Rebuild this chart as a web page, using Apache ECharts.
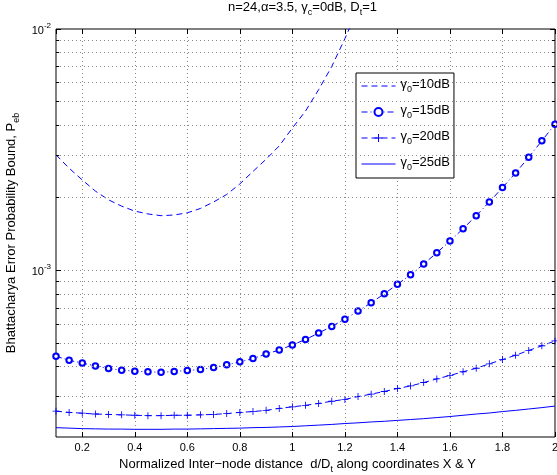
<!DOCTYPE html>
<html>
<head>
<meta charset="utf-8">
<title>Bhattacharya Error Probability Bound</title>
<script src="https://cdn.jsdelivr.net/npm/echarts@6/dist/echarts.min.js"></script>
<style>
  html, body { margin: 0; padding: 0; background: #fff; }
  #chart { width: 557px; height: 475px; }
</style>
</head>
<body>
<div id="chart"></div>
<script>
// normalized inter-node distance d/Dt
const xValues = [0.1, 0.15, 0.2, 0.25, 0.3, 0.35, 0.4, 0.45, 0.5, 0.55, 0.6, 0.65, 0.7, 0.75, 0.8, 0.85, 0.9, 0.95, 1.0,
  1.05, 1.1, 1.15, 1.2, 1.25, 1.3, 1.35, 1.4, 1.45, 1.5, 1.55, 1.6, 1.65, 1.7, 1.75, 1.8, 1.85, 1.9, 1.95, 2.0];

// gamma0 = 10dB (goes off the top after ~1.2)
const pe10dB = [3.01e-3, 2.65e-3, 2.37e-3, 2.13e-3, 1.96e-3, 1.845e-3, 1.76e-3, 1.713e-3, 1.685e-3, 1.696e-3, 1.732e-3,
  1.805e-3, 1.92e-3, 2.063e-3, 2.281e-3, 2.57e-3, 2.887e-3, 3.279e-3, 3.887e-3, 4.568e-3, 5.605e-3, 6.995e-3, 9.124e-3, 1.21e-2];
// gamma0 = 15dB
const pe15dB = [4.41e-4, 4.24e-4, 4.13e-4, 4.02e-4, 3.92e-4, 3.86e-4, 3.82e-4, 3.80e-4, 3.78e-4, 3.81e-4, 3.85e-4, 3.88e-4,
  3.96e-4, 4.06e-4, 4.18e-4, 4.31e-4, 4.50e-4, 4.68e-4, 4.91e-4, 5.17e-4, 5.50e-4, 5.86e-4, 6.28e-4, 6.78e-4, 7.34e-4,
  8.00e-4, 8.75e-4, 9.59e-4, 1.062e-3, 1.183e-3, 1.323e-3, 1.488e-3, 1.685e-3, 1.92e-3, 2.202e-3, 2.533e-3, 2.943e-3,
  3.44e-3, 4.034e-3];
// gamma0 = 20dB
const pe20dB = [2.61e-4, 2.58e-4, 2.56e-4, 2.54e-4, 2.53e-4, 2.52e-4, 2.51e-4, 2.50e-4, 2.50e-4, 2.51e-4, 2.51e-4, 2.52e-4,
  2.53e-4, 2.55e-4, 2.58e-4, 2.60e-4, 2.63e-4, 2.68e-4, 2.72e-4, 2.76e-4, 2.81e-4, 2.87e-4, 2.92e-4, 3.00e-4, 3.07e-4,
  3.15e-4, 3.24e-4, 3.32e-4, 3.43e-4, 3.55e-4, 3.67e-4, 3.80e-4, 3.93e-4, 4.10e-4, 4.27e-4, 4.45e-4, 4.66e-4, 4.87e-4, 5.10e-4];
// gamma0 = 25dB
const pe25dB = [2.23e-4, 2.22e-4, 2.21e-4, 2.205e-4, 2.20e-4, 2.20e-4, 2.195e-4, 2.195e-4, 2.195e-4, 2.20e-4, 2.20e-4,
  2.205e-4, 2.21e-4, 2.215e-4, 2.22e-4, 2.23e-4, 2.235e-4, 2.245e-4, 2.255e-4, 2.27e-4, 2.285e-4, 2.30e-4, 2.32e-4,
  2.335e-4, 2.355e-4, 2.37e-4, 2.39e-4, 2.41e-4, 2.43e-4, 2.455e-4, 2.48e-4, 2.51e-4, 2.54e-4, 2.565e-4, 2.60e-4,
  2.63e-4, 2.665e-4, 2.70e-4, 2.74e-4];

const seriesNames = ['γ0=10dB', 'γ0=15dB', 'γ0=20dB', 'γ0=25dB'];
const legendLabels = ['10dB', '15dB', '20dB', '25dB'];

// log axis grid lines / ticks
const yMajorTicks = [1e-3, 1e-2];
const yMinorTicks = [3e-4, 4e-4, 5e-4, 6e-4, 7e-4, 8e-4, 9e-4, 2e-3, 3e-3, 4e-3, 5e-3, 6e-3, 7e-3, 8e-3, 9e-3];

const X_MIN = 0.1, X_MAX = 2, Y_MIN = 2.04e-4, Y_MAX = 1e-2;
const FONT = 'Liberation Sans';
const BLUE = '#0000ff';

// big text (title, axis names, legend)
const rich = {
  n: { fontFamily: FONT, fontSize: 13, fontWeight: 'normal', color: '#000', verticalAlign: 'bottom', padding: [0, 0, 3, 0] },
  sub: { fontFamily: FONT, fontSize: 9, fontWeight: 'normal', color: '#000', verticalAlign: 'bottom', padding: [0, 0, 0, 0] }
};
// tick labels 10^k
const tickRich = {
  n: { fontFamily: FONT, fontSize: 11, color: '#000', verticalAlign: 'bottom', padding: [0, 0, 0, 0] },
  sup: { fontFamily: FONT, fontSize: 8, color: '#000', verticalAlign: 'bottom', padding: [0, 0, 7, 0] }
};

function zip(ys) {
  return ys.map((y, i) => [xValues[i], y]);
}

// dotted grid lines + short ticks for the log axis, drawn as mark lines
function yGuides() {
  const out = [];
  const grid = { color: '#888', type: [1, 3], width: 1 };
  const tick = { color: '#000', type: 'solid', width: 1 };
  yMinorTicks.concat(yMajorTicks).forEach(v => {
    const len = yMajorTicks.indexOf(v) >= 0 ? 0.019 : 0.012;
    if (v < Y_MAX) out.push([{ coord: [X_MIN, v], lineStyle: grid }, { coord: [X_MAX, v] }]);
    out.push([{ coord: [X_MIN, v], lineStyle: tick }, { coord: [X_MIN + len, v] }]);
    out.push([{ coord: [X_MAX - len, v], lineStyle: tick }, { coord: [X_MAX, v] }]);
  });
  return out;
}

const plusSymbol = 'path://M0,4.4H10V5.6H0ZM4.4,0H5.6V10H4.4Z';

const chart = echarts.init(document.getElementById('chart'));

const xAxisBase = {
  type: 'value',
  min: X_MIN,
  max: X_MAX,
  splitNumber: 10,
  axisLine: { show: false },
  axisTick: { inside: true, length: 5, lineStyle: { color: '#000' } }
};

let option = {
  animation: false,
  backgroundColor: '#fff',
  title: {
    text: '{n|n=24,α=3.5, γ}{sub|c}{n|=0dB, D}{sub|t}{n|=1}',
    left: 228,
    top: 1,
    padding: 0,
    textStyle: { fontWeight: 'normal', rich: rich }
  },
  legend: {
    orient: 'vertical',
    left: 356,
    top: 73,
    data: seriesNames.map((name, i) => ({
      name: name,
      // no marker on the plain line styles
      itemStyle: (i === 0 || i === 3) ? { opacity: 0 } : {}
    })),
    selectedMode: false,
    itemWidth: 34,
    itemHeight: 10,
    itemGap: 10,
    padding: [5, 4, 6, 5],
    lineStyle: { width: 1 },
    backgroundColor: '#fff',
    borderColor: '#000',
    borderWidth: 1,
    borderRadius: 0,
    formatter: name => '{n|γ}{sub|0}{n|=' + legendLabels[seriesNames.indexOf(name)] + '}',
    textStyle: { rich: rich }
  },
  grid: {
    left: 56,
    right: 2,
    top: 29,
    bottom: 38,
    outerBoundsMode: 'none',
    containLabel: false,
    show: true,
    borderColor: '#000',
    borderWidth: 1,
    backgroundColor: 'transparent'
  },
  xAxis: [
    Object.assign({}, xAxisBase, {
      position: 'bottom',
      name: '{n|Normalized Inter−node distance  d/D}{sub|t}{n| along coordinates X & Y}',
      nameLocation: 'middle',
      nameGap: 18,
      nameTextStyle: { rich: rich, padding: [0, 16, 0, 0] },
      axisLabel: { showMinLabel: false, margin: 5, fontFamily: FONT, fontSize: 11, color: '#000' },
      splitLine: { show: true, lineStyle: { color: '#888', type: [1, 3], width: 1 } }
    }),
    Object.assign({}, xAxisBase, {
      position: 'top',
      axisLabel: { show: false },
      splitLine: { show: false }
    })
  ],
  yAxis: {
    type: 'log',
    logBase: 10,
    min: Y_MIN,
    max: Y_MAX,
    name: '{n|Bhattacharya Error Probability Bound, P}{sub|eb}',
    nameLocation: 'middle',
    nameGap: 34,
    nameTextStyle: { rich: rich },
    axisLine: { show: false },
    axisTick: { show: false },
    splitLine: { show: false },
    minorTick: { show: false },
    axisLabel: {
      showMinLabel: false,
      margin: 5,
      formatter: function (v) {
        const e = Math.round(Math.log10(v));
        if (Math.abs(Math.log10(v) - e) > 1e-6) return '';
        return '{n|10}{sup|' + e + '}';
      },
      rich: tickRich
    }
  },
  series: [
    {
      name: seriesNames[0],
      type: 'line',
      data: zip(pe10dB),
      symbol: 'none',
      lineStyle: { color: BLUE, width: 1, type: [6, 4] },
      itemStyle: { color: BLUE }
    },
    {
      name: seriesNames[1],
      type: 'line',
      data: zip(pe15dB),
      symbol: 'emptyCircle',
      symbolSize: 5.5,
      lineStyle: { color: BLUE, width: 1, type: [6, 3, 1, 3] },
      itemStyle: { color: BLUE, borderColor: BLUE, borderWidth: 0.9 }
    },
    {
      name: seriesNames[2],
      type: 'line',
      data: zip(pe20dB),
      symbol: plusSymbol,
      symbolSize: 7,
      lineStyle: { color: BLUE, width: 1, type: [6, 4] },
      itemStyle: { color: BLUE, borderWidth: 0 }
    },
    {
      name: seriesNames[3],
      type: 'line',
      data: zip(pe25dB),
      symbol: 'none',
      lineStyle: { color: BLUE, width: 1, type: 'solid' },
      itemStyle: { color: BLUE },
      markLine: {
        silent: true,
        symbol: ['none', 'none'],
        label: { show: false },
        animation: false,
        data: yGuides()
      }
    }
  ]
};

chart.setOption(option);
</script>
</body>
</html>
